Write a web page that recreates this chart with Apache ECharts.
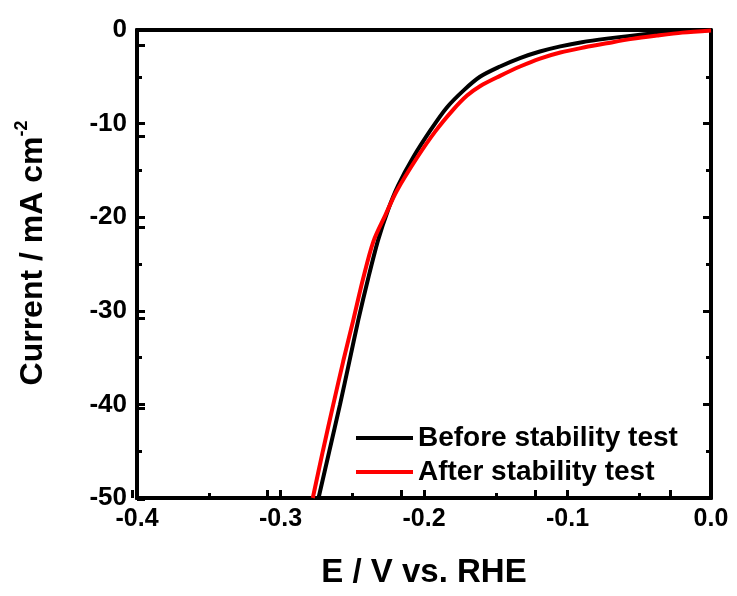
<!DOCTYPE html>
<html>
<head>
<meta charset="utf-8">
<script src="https://cdn.jsdelivr.net/npm/echarts@6/dist/echarts.min.js"></script>
<style>html,body{margin:0;padding:0;background:#fff}#c{width:737px;height:596px}</style>
</head>
<body>
<div id="c"></div>
<script>
// Potential (V vs RHE) and current density (mA cm^-2)
var beforeE = [-0.2735, -0.2660, -0.2585, -0.2520, -0.2458, -0.2390, -0.2319, -0.2250, -0.2180, -0.2075, -0.1950, -0.1842, -0.1720, -0.1610, -0.1470, -0.1331, -0.1192, -0.1050, -0.0900, -0.0727, -0.0550, -0.0378, -0.0200, 0.0];
var beforeI = [-50.0, -45.0, -40.0, -35.4, -31.0, -26.6, -22.4, -19.2, -16.6, -13.6, -10.6, -8.3, -6.4, -5.0, -3.9, -3.0, -2.3, -1.75, -1.3, -0.92, -0.6, -0.35, -0.15, 0.0];
var afterE = [-0.2775, -0.2705, -0.2632, -0.2563, -0.2493, -0.2425, -0.2353, -0.2270, -0.2190, -0.2051, -0.1920, -0.1796, -0.1700, -0.1610, -0.1470, -0.1331, -0.1192, -0.1050, -0.0880, -0.0727, -0.0550, -0.0378, -0.0200, 0.0];
var afterI = [-50.0, -45.0, -40.0, -35.4, -31.0, -26.6, -22.6, -19.8, -17.2, -13.7, -10.8, -8.5, -7.0, -6.0, -4.9, -3.9, -3.05, -2.4, -1.85, -1.42, -0.95, -0.6, -0.28, -0.05];
var seriesNames = ['Before stability test', 'After stability test'];
var xTicks = [-0.4, -0.3, -0.2, -0.1, 0.0];
var yTicks = [-50, -40, -30, -20, -10, 0];

function pairs(xs, ys) { return xs.map(function (x, i) { return [x, ys[i]]; }); }

var font = 'Liberation Sans, Arial, sans-serif';
var chart = echarts.init(document.getElementById('c'));
function line() { return { show: true, onZero: false, lineStyle: { color: '#000', width: 4, cap: 'round' } }; }
function tick() { return { show: true, inside: true, length: 8, lineStyle: { color: '#000', width: 3 } }; }
function minor(len) { return { show: true, splitNumber: 2, length: len, lineStyle: { color: '#000', width: 3 } }; }
function plainX(pos, withTicks) {
  return { gridIndex: 1, type: 'value', min: -0.4, max: 0, interval: 0.1, position: pos,
    axisLine: line(), axisTick: withTicks ? tick() : { show: false }, minorTick: withTicks ? minor(5) : { show: false },
    axisLabel: { show: false }, splitLine: { show: false } };
}
function plainY(pos) {
  return { gridIndex: 1, type: 'value', min: -50, max: 0, interval: 10, position: pos,
    axisLine: line(), axisTick: tick(), minorTick: minor(5),
    axisLabel: { show: false }, splitLine: { show: false } };
}
var hiddenLine = { show: false, onZero: false };
var gridBox = { left: 137, right: 26, top: 30, bottom: 98, containLabel: false };
// helper grids, half a major step larger, whose mid ticks fall on the major values
var yStepPx = (596 - 30 - 98) / 50 * 5;
var xStepPx = (737 - 137 - 26) / 0.4 * 0.05;
chart.setOption({
  animation: false,
  grid: [gridBox, Object.assign({}, gridBox),
    { left: 137, right: 26, top: 30 - yStepPx, bottom: 98 - yStepPx, containLabel: false },
    { left: 137 - xStepPx, right: 26 - xStepPx, top: 30, bottom: 98, containLabel: false }],
  legend: {
    data: seriesNames,
    orient: 'vertical',
    left: 351, top: 419,
    icon: 'rect', itemWidth: 57, itemHeight: 4, itemGap: 6,
    textStyle: { fontFamily: font, fontWeight: 'bold', fontSize: 28, color: '#000' }
  },
  xAxis: [{
    gridIndex: 0, type: 'value', min: -0.4, max: 0, interval: 0.1, position: 'bottom',
    name: 'E / V vs. RHE', nameLocation: 'middle', nameGap: 58,
    nameTextStyle: { fontFamily: font, fontWeight: 'bold', fontSize: 33, color: '#000' },
    axisLine: line(), axisTick: { show: false },
    splitLine: { show: false },
    axisLabel: { fontFamily: font, fontWeight: 'bold', fontSize: 25, color: '#000', margin: 9,
      formatter: function (v) { return v.toFixed(1); } }
  }, plainX('bottom', true), plainX('top', false),
  { gridIndex: 2, type: 'value', min: -0.4, max: 0, show: false, axisLine: hiddenLine },
  { gridIndex: 3, type: 'value', min: -0.45, max: 0.05, interval: 0.1, position: 'bottom',
    axisLine: hiddenLine, axisTick: { show: false, inside: true }, minorTick: minor(8),
    axisLabel: { show: false }, splitLine: { show: false } }],
  yAxis: [{
    gridIndex: 0, type: 'value', min: -50, max: 0, interval: 10, position: 'left',
    name: '{b|Current / mA cm}{s|-2}', nameLocation: 'middle', nameGap: 88, nameRotate: 90,
    nameTextStyle: { fontFamily: font, fontWeight: 'bold', fontSize: 32, color: '#000', padding: [0, 0, 0, 22],
      rich: {
        b: { fontFamily: font, fontWeight: 'bold', fontSize: 32, color: '#000', verticalAlign: 'bottom', lineHeight: 36 },
        s: { fontFamily: font, fontWeight: 'bold', fontSize: 18, color: '#000', verticalAlign: 'top', lineHeight: 36 }
      } },
    axisLine: line(), axisTick: { show: false },
    splitLine: { show: false },
    axisLabel: { fontFamily: font, fontWeight: 'bold', fontSize: 26, color: '#000', margin: 10 }
  }, plainY('left'), plainY('right'),
  { gridIndex: 2, type: 'value', min: -55, max: 5, interval: 10, position: 'left',
    axisLine: hiddenLine, axisTick: { show: false, inside: true }, minorTick: minor(8),
    axisLabel: { show: false }, splitLine: { show: false } },
  { gridIndex: 3, type: 'value', min: -50, max: 0, show: false, axisLine: hiddenLine }],
  series: [{
    name: seriesNames[0], type: 'line', xAxisIndex: 0, yAxisIndex: 0, smooth: 0.3, showSymbol: false, symbol: 'none',
    data: pairs(beforeE, beforeI), lineStyle: { color: '#000', width: 4 }, itemStyle: { color: '#000' }, z: 2
  }, {
    name: seriesNames[1], type: 'line', xAxisIndex: 0, yAxisIndex: 0, smooth: 0.3, showSymbol: false, symbol: 'none',
    data: pairs(afterE, afterI), lineStyle: { color: '#ff0000', width: 4 }, itemStyle: { color: '#ff0000' }, z: 3
  }]
});
</script>
</body>
</html>
